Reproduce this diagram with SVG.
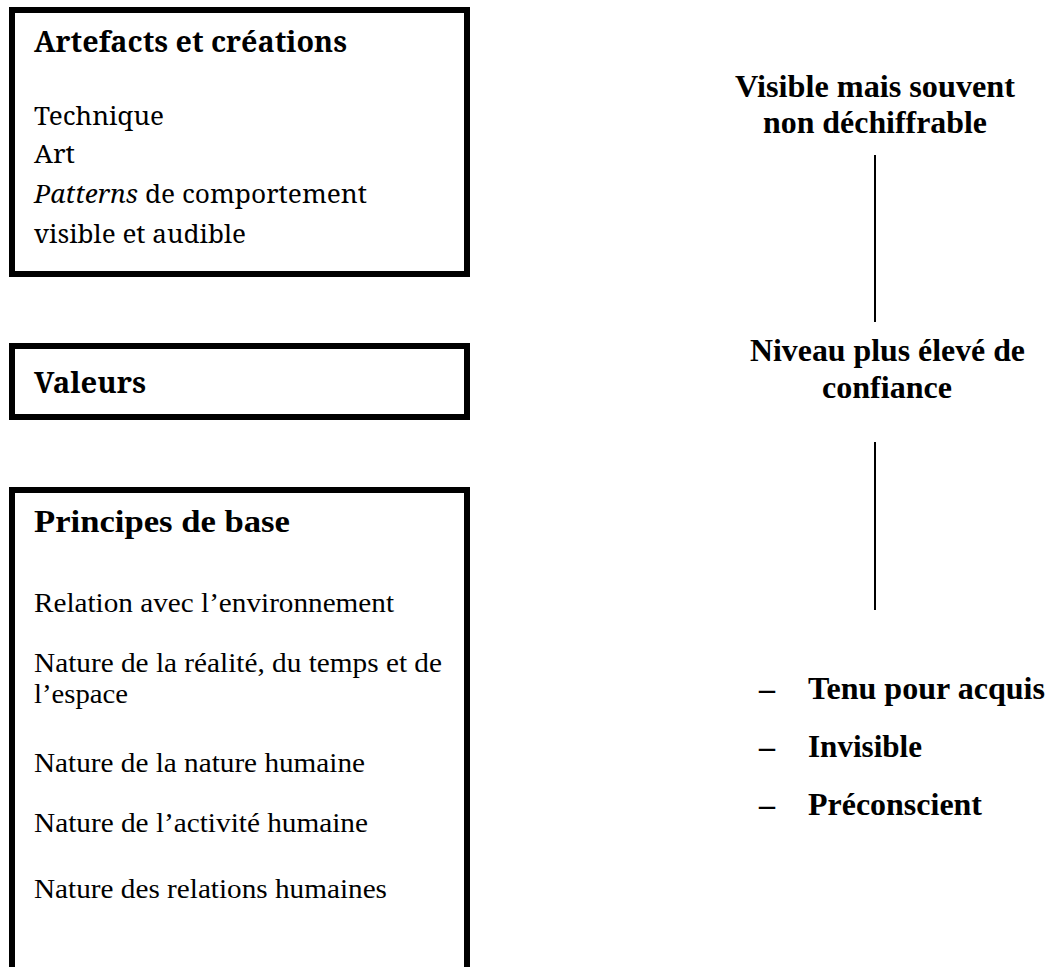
<svg xmlns="http://www.w3.org/2000/svg" width="1049" height="967" viewBox="0 0 1049 967">
<style>
.box{fill:#fff;stroke:#000;stroke-width:6}
.cam{font-family:'Noto Serif','DejaVu Serif',serif;fill:#000}
.tnr{font-family:'Liberation Serif','Times New Roman',serif;fill:#000}
.b{font-weight:bold}
.conn{stroke:#000;stroke-width:2;fill:none}
</style>
<rect width="1049" height="967" fill="#fff"/>
<g id="artefacts">
<rect class="box" x="12" y="10" width="455" height="264"/>
<text class="cam b" x="34" y="52" font-size="28" textLength="313" lengthAdjust="spacingAndGlyphs">Artefacts et créations</text>
<text class="cam" x="34" y="125" font-size="26" textLength="130" lengthAdjust="spacingAndGlyphs">Technique</text>
<text class="cam" x="34" y="163" font-size="26" textLength="41" lengthAdjust="spacingAndGlyphs">Art</text>
<text class="cam" x="34" y="203" font-size="26" textLength="333" lengthAdjust="spacingAndGlyphs"><tspan font-style="italic">Patterns</tspan> de comportement</text>
<text class="cam" x="34" y="243" font-size="26" textLength="212" lengthAdjust="spacingAndGlyphs">visible et audible</text>
</g>
<g id="valeurs">
<rect class="box" x="12" y="346" width="455" height="71"/>
<text class="cam b" x="34" y="393" font-size="28" textLength="112" lengthAdjust="spacingAndGlyphs">Valeurs</text>
</g>
<g id="principes">
<rect class="box" x="12" y="490" width="455" height="520"/>
<text class="tnr b" x="34" y="532" font-size="31" textLength="256" lengthAdjust="spacingAndGlyphs">Principes de base</text>
<text class="tnr" x="34" y="612" font-size="27" textLength="360" lengthAdjust="spacingAndGlyphs">Relation avec l’environnement</text>
<text class="tnr" x="34" y="672" font-size="27" textLength="408" lengthAdjust="spacingAndGlyphs">Nature de la réalité, du temps et de</text>
<text class="tnr" x="34" y="703" font-size="27" textLength="94" lengthAdjust="spacingAndGlyphs">l’espace</text>
<text class="tnr" x="34" y="772" font-size="27" textLength="331" lengthAdjust="spacingAndGlyphs">Nature de la nature humaine</text>
<text class="tnr" x="34" y="832" font-size="27" textLength="334" lengthAdjust="spacingAndGlyphs">Nature de l’activité humaine</text>
<text class="tnr" x="34" y="898" font-size="27" textLength="353" lengthAdjust="spacingAndGlyphs">Nature des relations humaines</text>
</g>
<g id="visible">
<text class="tnr b" x="735" y="97" font-size="32" textLength="280" lengthAdjust="spacingAndGlyphs">Visible mais souvent</text>
<text class="tnr b" x="763" y="133" font-size="32" textLength="224" lengthAdjust="spacingAndGlyphs">non déchiffrable</text>
</g>
<g id="niveau">
<text class="tnr b" x="750" y="361" font-size="32" textLength="275" lengthAdjust="spacingAndGlyphs">Niveau plus élevé de</text>
<text class="tnr b" x="822" y="398" font-size="32" textLength="130" lengthAdjust="spacingAndGlyphs">confiance</text>
</g>
<g id="tenu">
<text class="tnr b" x="759" y="699" font-size="32">–</text>
<text class="tnr b" x="808" y="699" font-size="32" textLength="237" lengthAdjust="spacingAndGlyphs">Tenu pour acquis</text>
<text class="tnr b" x="759" y="757" font-size="32">–</text>
<text class="tnr b" x="808" y="757" font-size="32" textLength="114" lengthAdjust="spacingAndGlyphs">Invisible</text>
<text class="tnr b" x="759" y="815" font-size="32">–</text>
<text class="tnr b" x="808" y="815" font-size="32" textLength="174" lengthAdjust="spacingAndGlyphs">Préconscient</text>
</g>
<g id="connectors">
<line class="conn" x1="875" y1="155" x2="875" y2="322"/>
<line class="conn" x1="875" y1="442" x2="875" y2="610"/>
</g>
</svg>
